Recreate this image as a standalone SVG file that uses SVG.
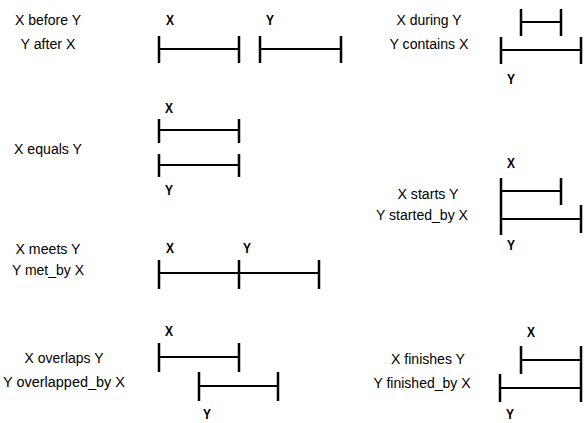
<svg xmlns="http://www.w3.org/2000/svg" width="588" height="423" viewBox="0 0 588 423">
<style>
.t{font-family:"Liberation Sans",Arial,sans-serif;font-size:15.5px;fill:#000;text-anchor:middle}
.l{font-family:"Liberation Sans",Arial,sans-serif;font-size:15px;font-weight:bold;fill:#000;text-anchor:middle}
.b{stroke:#000;stroke-width:2;fill:none}
.k{stroke:#000;stroke-width:2.5;fill:none}
</style>
<rect width="588" height="423" fill="#fff"/>
<g id="before">
<text class="t" x="48" y="25" textLength="66" lengthAdjust="spacingAndGlyphs">X before Y</text>
<text class="t" x="48" y="49" textLength="55" lengthAdjust="spacingAndGlyphs">Y after X</text>
<text class="l" x="170" y="25" textLength="8" lengthAdjust="spacingAndGlyphs">X</text>
<text class="l" x="270" y="25" textLength="8" lengthAdjust="spacingAndGlyphs">Y</text>
</g>
<g id="during">
<text class="t" x="429" y="25" textLength="65" lengthAdjust="spacingAndGlyphs">X during Y</text>
<text class="t" x="429" y="49" textLength="79" lengthAdjust="spacingAndGlyphs">Y contains X</text>
<text class="l" x="511" y="84" textLength="8" lengthAdjust="spacingAndGlyphs">Y</text>
</g>
<g id="equals">
<text class="t" x="48" y="154" textLength="68" lengthAdjust="spacingAndGlyphs">X equals Y</text>
<text class="l" x="169" y="113" textLength="8" lengthAdjust="spacingAndGlyphs">X</text>
<text class="l" x="169" y="195" textLength="8" lengthAdjust="spacingAndGlyphs">Y</text>
</g>
<g id="starts">
<text class="t" x="428" y="199" textLength="61" lengthAdjust="spacingAndGlyphs">X starts Y</text>
<text class="t" x="422" y="220" textLength="92" lengthAdjust="spacingAndGlyphs">Y started_by X</text>
<text class="l" x="511" y="168" textLength="8" lengthAdjust="spacingAndGlyphs">X</text>
<text class="l" x="511" y="250" textLength="8" lengthAdjust="spacingAndGlyphs">Y</text>
</g>
<g id="meets">
<text class="t" x="48" y="254" textLength="65" lengthAdjust="spacingAndGlyphs">X meets Y</text>
<text class="t" x="48" y="275" textLength="72" lengthAdjust="spacingAndGlyphs">Y met_by X</text>
<text class="l" x="170" y="253" textLength="8" lengthAdjust="spacingAndGlyphs">X</text>
<text class="l" x="247" y="253" textLength="8" lengthAdjust="spacingAndGlyphs">Y</text>
</g>
<g id="overlaps">
<text class="t" x="64" y="363" textLength="79" lengthAdjust="spacingAndGlyphs">X overlaps Y</text>
<text class="t" x="64" y="387" textLength="122" lengthAdjust="spacingAndGlyphs">Y overlapped_by X</text>
<text class="l" x="169" y="336" textLength="8" lengthAdjust="spacingAndGlyphs">X</text>
<text class="l" x="207" y="419" textLength="8" lengthAdjust="spacingAndGlyphs">Y</text>
</g>
<g id="finishes">
<text class="t" x="428" y="364" textLength="74" lengthAdjust="spacingAndGlyphs">X finishes Y</text>
<text class="t" x="422" y="388" textLength="97" lengthAdjust="spacingAndGlyphs">Y finished_by X</text>
<text class="l" x="531" y="337" textLength="8" lengthAdjust="spacingAndGlyphs">X</text>
<text class="l" x="510" y="419" textLength="8" lengthAdjust="spacingAndGlyphs">Y</text>
</g>
<g id="connectors">
<path class="b" d="M159 49H239M260 49H341"/>
<path class="k" d="M159 36V63M239 36V63M260 36V63M341 36V63"/>
<path class="b" d="M521 22H561M501 50H581"/>
<path class="k" d="M521 9V36M561 9V36M501 37V64M581 37V64"/>
<path class="b" d="M159 130H239M159 165H239"/>
<path class="k" d="M159 119V143M239 119V143M159 154V177M239 154V177"/>
<path class="b" d="M501 191H561M501 219H581"/>
<path class="k" d="M501 178V235M561 178V205M581 205V233"/>
<path class="b" d="M159 273H319"/>
<path class="k" d="M159 260V289M239 260V289M319 260V289"/>
<path class="b" d="M159 357H239M199 386H278"/>
<path class="k" d="M159 343V372M239 343V372M199 372V401M278 372V401"/>
<path class="b" d="M521 360H581M500 388H581"/>
<path class="k" d="M521 346V374M581 346V402M500 374V402"/>
</g>
</svg>
